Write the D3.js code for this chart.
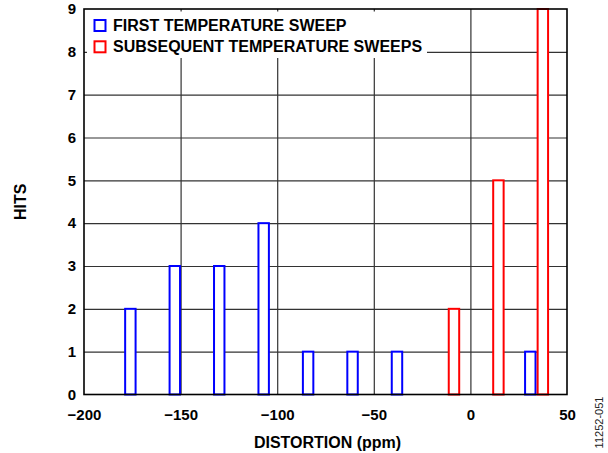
<!DOCTYPE html>
<html>
<head>
<meta charset="utf-8">
<script src="https://d3js.org/d3.v7.min.js"></script>
<style>
  body { margin: 0; background: #fff; }
  text { font-family: "Liberation Sans", Arial, sans-serif; }
</style>
</head>
<body>
<div id="chart"></div>
<script>
// bin centres (ppm) and hit counts
var firstCentres = [-176, -153, -130, -107, -84, -61, -38, 31];
var firstHits    = [2, 3, 3, 4, 1, 1, 1, 1];
var laterCentres = [-8.5, 14.5, 37.5];
var laterHits    = [2, 5, 9];
var xTicks = [-200, -150, -100, -50, 0, 50];
var yTicks = [0, 1, 2, 3, 4, 5, 6, 7, 8, 9];
var legendLabels = ["FIRST TEMPERATURE SWEEP", "SUBSEQUENT TEMPERATURE SWEEPS"];

var W = 608, H = 453;
var margin = {top: 9, right: 41, bottom: 58.5, left: 84},
    width = W - margin.left - margin.right,
    height = H - margin.top - margin.bottom;

var svg = d3.select("#chart").append("svg")
    .attr("width", W).attr("height", H);
var g = svg.append("g")
    .attr("transform", "translate(" + margin.left + "," + margin.top + ")");

var x = d3.scaleLinear().domain([-200, 50]).range([0, width]);
var y = d3.scaleLinear().domain([0, 9]).range([height, 0]);

// grid
g.append("g")
    .call(d3.axisBottom(x).tickValues(xTicks.slice(1, -1)).tickSize(height).tickFormat(""))
    .call(function(a) { a.select(".domain").remove(); })
    .selectAll("line").attr("stroke", "#333").attr("stroke-width", 1.2);
g.append("g")
    .call(d3.axisLeft(y).tickValues(yTicks.slice(1, -1)).tickSize(-width).tickFormat(""))
    .call(function(a) { a.select(".domain").remove(); })
    .selectAll("line").attr("stroke", "#333").attr("stroke-width", 1.2);

// tick labels
g.append("g")
    .attr("transform", "translate(0," + height + ")")
    .call(d3.axisBottom(x).tickValues(xTicks).tickSize(0).tickPadding(15))
    .call(function(a) { a.select(".domain").remove(); })
    .selectAll("text")
    .attr("font-size", 15).attr("font-weight", "bold").attr("fill", "#000")
    .style("font-family", "'Liberation Sans', Arial, sans-serif");
g.append("g")
    .call(d3.axisLeft(y).tickValues(yTicks).tickSize(0).tickPadding(8))
    .call(function(a) { a.select(".domain").remove(); })
    .selectAll("text")
    .attr("font-size", 15).attr("font-weight", "bold").attr("fill", "#000")
    .style("font-family", "'Liberation Sans', Arial, sans-serif");

// legend box hides part of the grid
g.append("rect")
    .attr("x", 3).attr("y", 2.5).attr("width", 340).attr("height", 46.5)
    .attr("fill", "#fff");

var barW = 5.4;
function drawBars(centres, hits, colour) {
  g.append("g").selectAll("rect")
    .data(centres.map(function(c, i) { return {c: c, h: hits[i]}; }))
    .join("rect")
      .attr("x", function(d) { return x(d.c - barW / 2); })
      .attr("y", function(d) { return y(d.h); })
      .attr("width", function(d) { return x(d.c + barW / 2) - x(d.c - barW / 2); })
      .attr("height", function(d) { return y(0) - y(d.h); })
      .attr("fill", "#fff")
      .attr("stroke", colour)
      .attr("stroke-width", 2);
}
drawBars(firstCentres, firstHits, "#0000ff");
drawBars(laterCentres, laterHits, "#ff0000");

// frame
g.append("rect")
    .attr("width", width).attr("height", height)
    .attr("fill", "none").attr("stroke", "#000").attr("stroke-width", 1.6);

// legend
var colours = ["#0000ff", "#ff0000"];
var leg = g.append("g").attr("transform", "translate(10,10.5)");
legendLabels.forEach(function(l, i) {
  leg.append("rect")
      .attr("x", 0.5).attr("y", i * 21.3 + 0.5).attr("width", 11).attr("height", 11)
      .attr("fill", "none").attr("stroke", colours[i]).attr("stroke-width", 2);
  leg.append("text")
      .attr("x", 19).attr("y", i * 21.3 + 11.5)
      .attr("font-size", 16).attr("font-weight", "bold")
      .text(l);
});

// axis titles
svg.append("text")
    .attr("x", margin.left + width / 2 + 2).attr("y", 447.5)
    .attr("text-anchor", "middle")
    .attr("font-size", 16).attr("font-weight", "bold")
    .text("DISTORTION (ppm)");
svg.append("text")
    .attr("transform", "translate(26," + (margin.top + height / 2) + ") rotate(-90)")
    .attr("text-anchor", "middle")
    .attr("font-size", 16).attr("font-weight", "bold")
    .text("HITS");
svg.append("text")
    .attr("transform", "translate(603,422.5) rotate(-90)")
    .attr("text-anchor", "middle")
    .attr("font-size", 11).attr("fill", "#222")
    .text("11252-051");
</script>
</body>
</html>
